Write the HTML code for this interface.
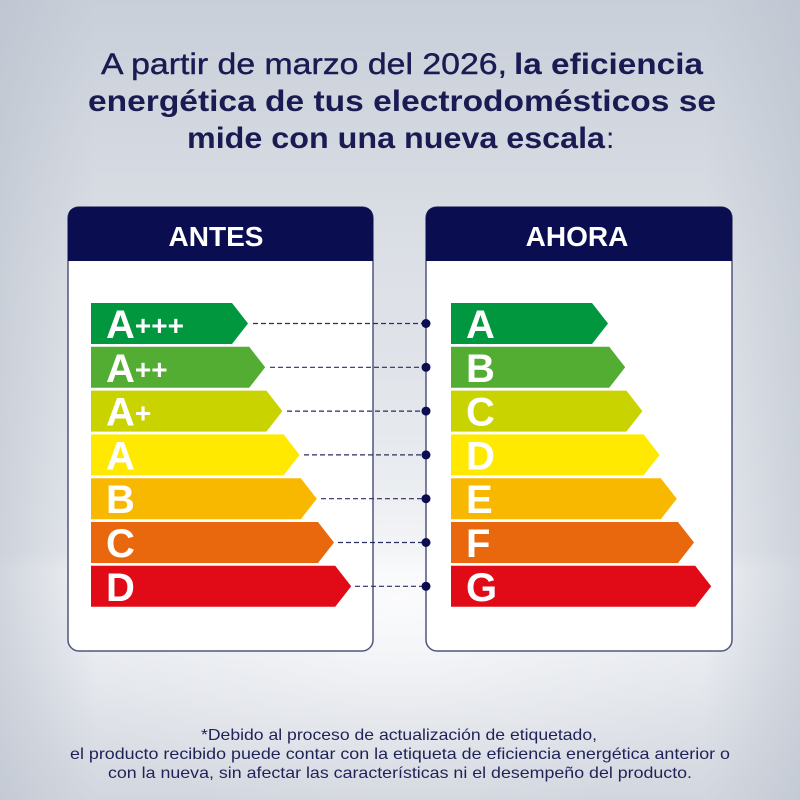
<!DOCTYPE html>
<html>
<head>
<meta charset="utf-8">
<style>
  html,body{margin:0;padding:0;width:800px;height:800px;overflow:hidden;background:#dfe2e8;}
  svg{display:block;}
  .t{font-family:"Liberation Sans",Arial,sans-serif;}
</style>
</head>
<body>
<svg width="800" height="800" viewBox="0 0 800 800" xmlns="http://www.w3.org/2000/svg">
  <defs>
    <linearGradient id="bg" x1="0" y1="0" x2="0" y2="1">
      <stop offset="0" stop-color="#c9cfd9"/>
      <stop offset="0.35" stop-color="#dde1e7"/>
      <stop offset="0.69" stop-color="#e6e9ee"/>
      <stop offset="0.715" stop-color="#eff1f4"/>
      <stop offset="0.82" stop-color="#e7eaef"/>
      <stop offset="1" stop-color="#d2d6de"/>
    </linearGradient>
    <radialGradient id="glow" cx="400" cy="600" r="380" gradientUnits="userSpaceOnUse" gradientTransform="translate(400 600) scale(1 0.6) translate(-400 -600)">
      <stop offset="0" stop-color="#ffffff" stop-opacity="0.75"/>
      <stop offset="0.5" stop-color="#ffffff" stop-opacity="0.25"/>
      <stop offset="1" stop-color="#ffffff" stop-opacity="0"/>
    </radialGradient>
    <linearGradient id="vig" x1="0" y1="0" x2="1" y2="0">
      <stop offset="0" stop-color="#b9c0cc" stop-opacity="0.55"/>
      <stop offset="0.12" stop-color="#b9c0cc" stop-opacity="0"/>
      <stop offset="0.88" stop-color="#b9c0cc" stop-opacity="0"/>
      <stop offset="1" stop-color="#b9c0cc" stop-opacity="0.55"/>
    </linearGradient>
  </defs>

  <!-- background -->
  <rect x="0" y="0" width="800" height="800" fill="url(#bg)"/>
  <rect x="0" y="0" width="800" height="800" fill="url(#glow)"/>
  <rect x="0" y="0" width="800" height="800" fill="url(#vig)"/>

  <!-- title -->
  <g class="t" fill="#1a1b52" font-size="30">
    <text x="101" y="74" textLength="406" lengthAdjust="spacingAndGlyphs" stroke="#1a1b52" stroke-width="0.4">A partir de marzo del 2026,</text>
    <text x="514" y="74" font-weight="bold" textLength="189" lengthAdjust="spacingAndGlyphs">la eficiencia</text>
    <text x="88" y="111" font-weight="bold" textLength="628" lengthAdjust="spacingAndGlyphs">energética de tus electrodomésticos se</text>
    <text x="187" y="148" font-weight="bold" textLength="418" lengthAdjust="spacingAndGlyphs">mide con una nueva escala</text>
    <text x="606" y="148">:</text>
  </g>

  <!-- left card -->
  <rect x="68" y="207" width="305" height="444" rx="11" ry="11" fill="#ffffff" stroke="#50557f" stroke-width="1.5"/>
  <path d="M68,261 L68,218 Q68,207 79,207 L362,207 Q373,207 373,218 L373,261 Z" fill="#0a0d50"/>
  <text class="t" x="216" y="246" text-anchor="middle" fill="#ffffff" font-size="28" font-weight="bold">ANTES</text>

  <!-- right card -->
  <rect x="426" y="207" width="306" height="444" rx="11" ry="11" fill="#ffffff" stroke="#50557f" stroke-width="1.5"/>
  <path d="M426,261 L426,218 Q426,207 437,207 L721,207 Q732,207 732,218 L732,261 Z" fill="#0a0d50"/>
  <text class="t" x="577" y="246" text-anchor="middle" fill="#ffffff" font-size="28" font-weight="bold">AHORA</text>

  <!-- left bars -->
  <g>
    <polygon points="91,303 232,303 248,323.5 232,344 91,344" fill="#00973f"/>
    <polygon points="91,346.8 249.2,346.8 265.2,367.3 249.2,387.8 91,387.8" fill="#53ad33"/>
    <polygon points="91,390.6 266.4,390.6 282.4,411.1 266.4,431.6 91,431.6" fill="#c8d300"/>
    <polygon points="91,434.4 283.6,434.4 299.6,454.9 283.6,475.4 91,475.4" fill="#ffe900"/>
    <polygon points="91,478.2 300.8,478.2 316.8,498.7 300.8,519.2 91,519.2" fill="#f9b800"/>
    <polygon points="91,522 318,522 334,542.5 318,563 91,563" fill="#e9680d"/>
    <polygon points="91,565.8 335.2,565.8 351.2,586.3 335.2,606.8 91,606.8" fill="#e10a17"/>
  </g>
  <!-- right bars -->
  <g>
    <polygon points="451,303 592,303 608,323.5 592,344 451,344" fill="#00973f"/>
    <polygon points="451,346.8 609.2,346.8 625.2,367.3 609.2,387.8 451,387.8" fill="#53ad33"/>
    <polygon points="451,390.6 626.4,390.6 642.4,411.1 626.4,431.6 451,431.6" fill="#c8d300"/>
    <polygon points="451,434.4 643.6,434.4 659.6,454.9 643.6,475.4 451,475.4" fill="#ffe900"/>
    <polygon points="451,478.2 660.8,478.2 676.8,498.7 660.8,519.2 451,519.2" fill="#f9b800"/>
    <polygon points="451,522 678,522 694,542.5 678,563 451,563" fill="#e9680d"/>
    <polygon points="451,565.8 695.2,565.8 711.2,586.3 695.2,606.8 451,606.8" fill="#e10a17"/>
  </g>

  <!-- left labels -->
  <g class="t" fill="#ffffff" font-weight="bold" font-size="40">
    <text x="106" y="338">A<tspan font-size="28" dy="-3">+++</tspan></text>
    <text x="106" y="381.8">A<tspan font-size="28" dy="-3">++</tspan></text>
    <text x="106" y="425.6">A<tspan font-size="28" dy="-3">+</tspan></text>
    <text x="106" y="469.4">A</text>
    <text x="106" y="513.2">B</text>
    <text x="106" y="557">C</text>
    <text x="106" y="600.8">D</text>
  </g>
  <!-- right labels -->
  <g class="t" fill="#ffffff" font-weight="bold" font-size="40">
    <text x="466" y="338">A</text>
    <text x="466" y="381.8">B</text>
    <text x="466" y="425.6">C</text>
    <text x="466" y="469.4">D</text>
    <text x="466" y="513.2">E</text>
    <text x="466" y="557">F</text>
    <text x="466" y="600.8">G</text>
  </g>

  <!-- dashed connectors -->
  <g stroke="#2a2d62" stroke-width="1.2" stroke-dasharray="5 3" fill="none">
    <line x1="253" y1="323.5" x2="424" y2="323.5"/>
    <line x1="270" y1="367.3" x2="424" y2="367.3"/>
    <line x1="287" y1="411.1" x2="424" y2="411.1"/>
    <line x1="304" y1="454.9" x2="424" y2="454.9"/>
    <line x1="321" y1="498.7" x2="424" y2="498.7"/>
    <line x1="338" y1="542.5" x2="424" y2="542.5"/>
    <line x1="355" y1="586.3" x2="424" y2="586.3"/>
  </g>
  <g fill="#0a0d50">
    <circle cx="426" cy="323.5" r="4.5"/>
    <circle cx="426" cy="367.3" r="4.5"/>
    <circle cx="426" cy="411.1" r="4.5"/>
    <circle cx="426" cy="454.9" r="4.5"/>
    <circle cx="426" cy="498.7" r="4.5"/>
    <circle cx="426" cy="542.5" r="4.5"/>
    <circle cx="426" cy="586.3" r="4.5"/>
  </g>

  <!-- footer -->
  <g class="t" fill="#1f2257" font-size="16">
    <text x="201" y="740" textLength="396" lengthAdjust="spacingAndGlyphs">*Debido al proceso de actualización de etiquetado,</text>
    <text x="70" y="759" textLength="660" lengthAdjust="spacingAndGlyphs">el producto recibido puede contar con la etiqueta de eficiencia energética anterior o</text>
    <text x="108" y="778" textLength="584" lengthAdjust="spacingAndGlyphs">con la nueva, sin afectar las características ni el desempeño del producto.</text>
  </g>
</svg>
</body>
</html>
